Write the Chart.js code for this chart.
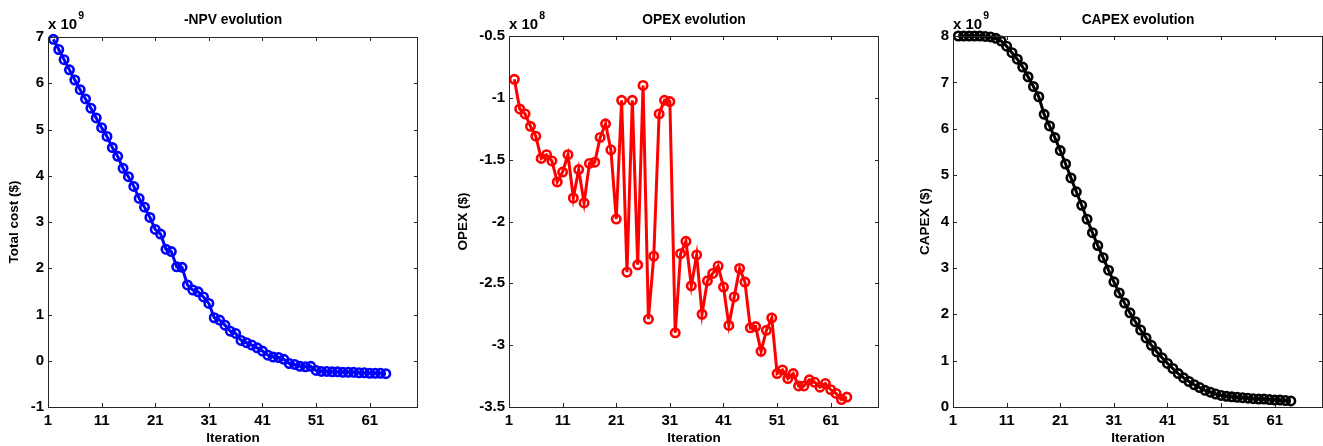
<!DOCTYPE html>
<html><head><meta charset="utf-8">
<script src="https://cdn.jsdelivr.net/npm/chart.js@4.4.1/dist/chart.umd.min.js"></script>
<style>
html,body{margin:0;padding:0;background:#fff;width:1323px;height:446px;overflow:hidden;}
canvas{position:absolute;top:0;}
</style></head><body>
<canvas id="c1" width="440" height="446" style="left:0px;width:440px;height:446px"></canvas>
<canvas id="c2" width="445" height="446" style="left:440px;width:445px;height:446px"></canvas>
<canvas id="c3" width="438" height="446" style="left:885px;width:438px;height:446px"></canvas>
<script>
// ---- data ----
const iterations = [2,3,4,5,6,7,8,9,10,11,12,13,14,15,16,17,18,19,20,21,22,23,24,25,26,27,28,29,30,31,32,33,
  34,35,36,37,38,39,40,41,42,43,44,45,46,47,48,49,50,51,52,53,54,55,56,57,58,59,60,61,62,63,64];
const npv = [6.95,6.73,6.51,6.29,6.07,5.86,5.66,5.46,5.25,5.04,4.85,4.61,4.42,4.16,3.98,3.77,3.51,3.32,3.10,2.84,
  2.74,2.41,2.36,2.03,2.02,1.64,1.53,1.49,1.38,1.24,0.93,0.88,0.77,0.64,0.59,0.44,0.39,0.34,0.28,0.21,
  0.12,0.08,0.07,0.03,-0.06,-0.08,-0.12,-0.13,-0.12,-0.21,-0.23,-0.23,-0.24,-0.24,-0.25,-0.25,-0.25,-0.26,-0.26,-0.27,
  -0.27,-0.27,-0.28];
const opex = [-0.85,-1.09,-1.13,-1.23,-1.31,-1.49,-1.46,-1.51,-1.68,-1.60,-1.46,-1.81,-1.58,-1.85,-1.53,-1.52,-1.32,-1.21,-1.42,-1.98,
  -1.02,-2.41,-1.02,-2.35,-0.90,-2.79,-2.28,-1.13,-1.02,-1.03,-2.90,-2.26,-2.16,-2.52,-2.27,-2.75,-2.48,-2.42,-2.36,-2.53,
  -2.84,-2.61,-2.38,-2.49,-2.86,-2.85,-3.05,-2.88,-2.78,-3.23,-3.20,-3.27,-3.23,-3.33,-3.33,-3.28,-3.30,-3.34,-3.31,-3.36,
  -3.39,-3.44,-3.42];
const capex = [8.00,8.00,8.00,8.00,8.00,7.99,7.98,7.95,7.89,7.78,7.64,7.50,7.33,7.12,6.91,6.69,6.31,6.06,5.81,5.53,
  5.24,4.94,4.64,4.35,4.05,3.76,3.48,3.22,2.95,2.70,2.46,2.24,2.03,1.84,1.66,1.49,1.33,1.19,1.06,0.94,
  0.83,0.72,0.63,0.55,0.48,0.42,0.36,0.32,0.28,0.25,0.23,0.22,0.21,0.20,0.19,0.18,0.17,0.17,0.16,0.15,
  0.15,0.14,0.13];
const xTickValues = [1,11,21,31,41,51,61];
const xRange = [1,70];
const npvTicks = [-1,0,1,2,3,4,5,6,7];
const opexTicks = [-3.5,-3,-2.5,-2,-1.5,-1,-0.5];
const capexTicks = [0,1,2,3,4,5,6,7,8];
const titles = ['-NPV evolution','OPEX evolution','CAPEX evolution'];
const yTitles = ['Total cost ($)','OPEX ($)','CAPEX ($)'];
const exponents = ['9','8','9'];
const xTitle = 'Iteration';

// ---- rendering ----
const FONT = "'Liberation Sans', Arial, Helvetica, sans-serif";
const framePlugin = {
  id: 'frame',
  afterDraw(chart, args, o) {
    const {ctx, chartArea: a, scales} = chart;
    ctx.save();
    ctx.strokeStyle = '#262626';
    ctx.lineWidth = 1;
    ctx.strokeRect(Math.round(a.left)+0.5, Math.round(a.top)+0.5, Math.round(a.right-a.left)-1, Math.round(a.bottom-a.top));
    const tl = 4;
    ctx.beginPath();
    scales.x.ticks.forEach(t => {
      const px = Math.round(scales.x.getPixelForValue(t.value)) + 0.5;
      ctx.moveTo(px, a.bottom); ctx.lineTo(px, a.bottom - tl);
      ctx.moveTo(px, a.top); ctx.lineTo(px, a.top + tl);
    });
    scales.y.ticks.forEach(t => {
      const py = Math.round(scales.y.getPixelForValue(t.value)) + 0.5;
      ctx.moveTo(a.left, py); ctx.lineTo(a.left + tl, py);
      ctx.moveTo(a.right, py); ctx.lineTo(a.right - tl, py);
    });
    ctx.stroke();
    // title
    ctx.fillStyle = '#000';
    ctx.font = 'bold 13.8px ' + FONT;
    ctx.textAlign = 'center';
    ctx.textBaseline = 'middle';
    ctx.fillText(o.title, (a.left + a.right) / 2, 20);
    // exponent
    ctx.textAlign = 'left';
    ctx.textBaseline = 'alphabetic';
    ctx.font = 'bold 15px ' + FONT;
    const base = 'x 10';
    ctx.fillText(base, a.left, 29);
    const w = ctx.measureText(base).width;
    ctx.font = 'bold 10.5px ' + FONT;
    ctx.fillText(o.exp, a.left + w + 1, 19);
    ctx.restore();
  }
};

function makeChart(id, cfg) {
  const pts = iterations.map((x, i) => ({x: x, y: cfg.values[i]}));
  const lh = 13.5 * 1.2;
  return new Chart(document.getElementById(id), {
    type: 'line',
    data: { datasets: [{
      data: pts,
      borderColor: cfg.color,
      borderWidth: 3,
      pointRadius: 4.2,
      pointBorderWidth: 2.6,
      pointBackgroundColor: 'rgba(0,0,0,0)',
      pointBorderColor: cfg.color,
      tension: 0,
      clip: false
    }]},
    options: {
      responsive: false,
      animation: false,
      events: [],
      layout: { autoPadding: false, padding: { top: cfg.top, right: cfg.right, left: 0, bottom: 0 } },
      plugins: {
        legend: { display: false },
        tooltip: { enabled: false },
        title: { display: false },
        frame: { title: cfg.title, exp: cfg.exp }
      },
      scales: {
        x: {
          type: 'linear', min: xRange[0], max: xRange[1],
          afterBuildTicks: s => { s.ticks = xTickValues.map(v => ({value: v})); },
          afterFit: s => { s.height = 39; },
          grid: { display: false, drawTicks: false },
          border: { display: false },
          ticks: { padding: 5, color: '#000', font: { family: FONT, size: 15, weight: 'bold' }, maxRotation: 0,
                   callback: v => String(v) },
          title: { display: true, text: xTitle, color: '#000', padding: { top: 0, bottom: 0 },
                   font: { family: FONT, size: 13.5, weight: 'bold' } }
        },
        y: {
          type: 'linear', min: cfg.ticks[0], max: cfg.ticks[cfg.ticks.length - 1],
          afterBuildTicks: s => { s.ticks = cfg.ticks.map(v => ({value: v})); },
          afterFit: s => { s.width = cfg.yw; },
          grid: { display: false, drawTicks: false },
          border: { display: false },
          ticks: { padding: 4, color: '#000', font: { family: FONT, size: 15, weight: 'bold' },
                   callback: v => String(v) },
          title: { display: true, text: cfg.yTitle, color: '#000',
                   padding: { top: cfg.ytx - lh / 2, bottom: 0 },
                   font: { family: FONT, size: 13.5, weight: 'bold' } }
        }
      }
    },
    plugins: [framePlugin]
  });
}

makeChart('c1', { values: npv, color: '#0000ff', ticks: npvTicks, title: titles[0], yTitle: yTitles[0], exp: exponents[0],
  top: 37, right: 22, yw: 48, ytx: 14 });
makeChart('c2', { values: opex, color: '#ff0000', ticks: opexTicks, title: titles[1], yTitle: yTitles[1], exp: exponents[1],
  top: 36, right: 6, yw: 69, ytx: 23 });
makeChart('c3', { values: capex, color: '#000000', ticks: capexTicks, title: titles[2], yTitle: yTitles[2], exp: exponents[2],
  top: 36, right: 0, yw: 68, ytx: 40 });
</script>
</body></html>
